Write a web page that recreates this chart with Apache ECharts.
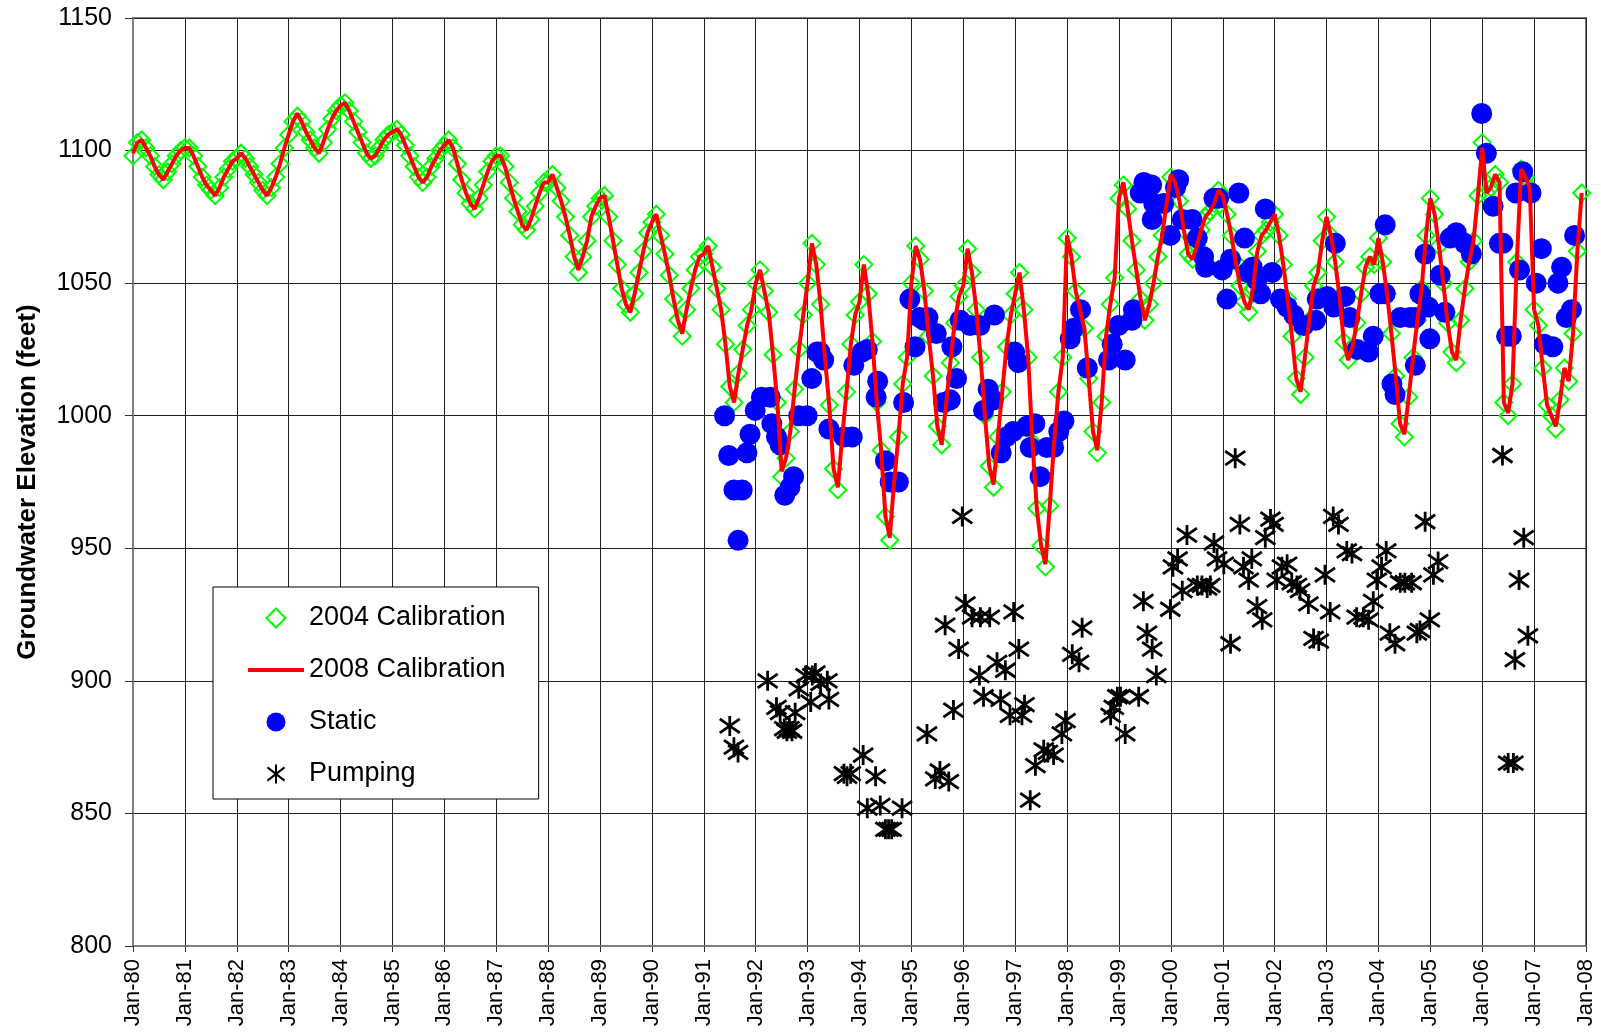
<!DOCTYPE html>
<html>
<head>
<meta charset="utf-8">
<title>Groundwater Elevation</title>
<script src="https://cdn.jsdelivr.net/npm/echarts@6/dist/echarts.min.js"></script>
<style>
    html, body { margin: 0; padding: 0; background: #ffffff; }
    #chart_groundwater { width: 1601px; height: 1032px; }
</style>
</head>
<body>
<div id="chart_groundwater"></div>
<script>
// monthly calibration values, Jan-80 .. Dec-07 (one row per year)
var calibStartYear = 1980;
var calib2004 = [
    1098, 1103, 1104, 1101, 1098, 1094, 1091, 1089, 1092, 1095, 1098, 1100,
    1101, 1101, 1098, 1094, 1090, 1087, 1085, 1083, 1086, 1090, 1093, 1096,
    1097, 1099, 1097, 1094, 1091, 1088, 1085, 1083, 1086, 1090, 1095, 1101,
    1106, 1111, 1113, 1111, 1107, 1104, 1101, 1099, 1103, 1108, 1112, 1115,
    1117, 1118, 1115, 1111, 1107, 1103, 1099, 1097, 1098, 1101, 1104, 1106,
    1107, 1108, 1106, 1102, 1098, 1094, 1090, 1088, 1090, 1094, 1097, 1100,
    1102, 1104, 1101, 1095, 1089, 1084, 1080, 1078, 1082, 1087, 1092, 1096,
    1098, 1098, 1094, 1088, 1082, 1077, 1072, 1070, 1074, 1079, 1084, 1088,
    1088, 1091, 1086, 1081, 1075, 1068, 1060, 1054, 1060, 1066, 1075, 1079,
    1082, 1083, 1075, 1066, 1057, 1048, 1042, 1039, 1046, 1054, 1062, 1069,
    1073, 1076, 1068, 1061, 1053, 1044, 1036, 1030, 1040, 1048, 1055, 1060,
    1061, 1064, 1056, 1048, 1040, 1027, 1011, 1005, 1016, 1025, 1034, 1040,
    1050, 1055, 1047, 1039, 1023, 1005, 977, 984, 994, 1010, 1025, 1038,
    1050, 1065, 1057, 1042, 1022, 1004, 980, 972, 992, 1009, 1027, 1038,
    1043, 1057, 1046, 1028, 1005, 987, 962, 953, 975, 992, 1012, 1022,
    1050, 1064, 1059, 1047, 1030, 1015, 996, 989, 1004, 1020, 1035, 1045,
    1049, 1063, 1054, 1040, 1022, 1000, 981, 973, 992, 1009, 1026, 1038,
    1046, 1054, 1040, 1022, 990, 965, 951, 943, 966, 990, 1009, 1022,
    1067, 1060, 1047, 1040, 1033, 1014, 994, 986, 1005, 1030, 1042, 1052,
    1082, 1087, 1078, 1066, 1055, 1044, 1036, 1042, 1050, 1060, 1068, 1080,
    1090, 1088, 1081, 1070, 1061, 1059, 1064, 1070, 1075, 1077, 1080, 1085,
    1083, 1076, 1068, 1058, 1049, 1043, 1039, 1048, 1062, 1068, 1070, 1073,
    1076, 1068, 1057, 1044, 1030, 1014, 1008, 1022, 1036, 1049, 1054, 1066,
    1075, 1068, 1058, 1045, 1028, 1021, 1026, 1035, 1046, 1056, 1060, 1057,
    1067, 1058, 1046, 1031, 1015, 997, 992, 1007, 1022, 1036, 1048, 1068,
    1082, 1076, 1064, 1050, 1035, 1024, 1020, 1036, 1048, 1058, 1066, 1083,
    1103, 1084, 1086, 1091, 1088, 1005, 1000, 1012, 1058, 1093, 1090, 1086,
    1040, 1034, 1018, 1004, 1000, 995, 1006, 1018, 1013, 1031, 1062, 1084
];
var calib2008 = [
    1099, 1103, 1104, 1101, 1098, 1094, 1091, 1089, 1092, 1095, 1098, 1100,
    1101, 1101, 1098, 1094, 1090, 1087, 1085, 1083, 1086, 1090, 1093, 1096,
    1097, 1099, 1097, 1094, 1091, 1088, 1085, 1083, 1086, 1090, 1095, 1101,
    1106, 1111, 1114, 1111, 1107, 1104, 1101, 1099, 1103, 1108, 1112, 1115,
    1117, 1118, 1115, 1111, 1107, 1103, 1099, 1097, 1098, 1101, 1104, 1106,
    1107, 1108, 1106, 1102, 1098, 1094, 1090, 1088, 1090, 1094, 1097, 1100,
    1102, 1104, 1101, 1095, 1089, 1084, 1080, 1078, 1082, 1087, 1092, 1096,
    1098, 1098, 1094, 1088, 1082, 1077, 1072, 1070, 1074, 1079, 1084, 1088,
    1088, 1091, 1086, 1081, 1075, 1068, 1060, 1055, 1060, 1066, 1075, 1079,
    1082, 1083, 1075, 1066, 1057, 1048, 1042, 1039, 1046, 1054, 1062, 1069,
    1073, 1076, 1068, 1061, 1053, 1044, 1036, 1031, 1040, 1048, 1055, 1060,
    1061, 1064, 1056, 1048, 1040, 1027, 1011, 1005, 1016, 1025, 1034, 1040,
    1050, 1055, 1047, 1039, 1023, 1005, 979, 984, 994, 1010, 1025, 1038,
    1050, 1065, 1057, 1042, 1022, 1004, 980, 973, 992, 1009, 1027, 1038,
    1043, 1057, 1046, 1028, 1005, 987, 962, 954, 975, 992, 1012, 1022,
    1050, 1064, 1059, 1047, 1030, 1015, 996, 989, 1004, 1020, 1035, 1045,
    1049, 1063, 1054, 1040, 1022, 1000, 981, 974, 992, 1009, 1026, 1038,
    1046, 1054, 1040, 1022, 990, 965, 951, 944, 966, 990, 1009, 1022,
    1068, 1060, 1047, 1040, 1033, 1014, 994, 987, 1005, 1030, 1042, 1052,
    1082, 1088, 1078, 1066, 1055, 1044, 1036, 1042, 1050, 1060, 1068, 1080,
    1091, 1088, 1081, 1070, 1061, 1059, 1064, 1070, 1075, 1077, 1080, 1085,
    1083, 1076, 1068, 1058, 1049, 1043, 1040, 1048, 1062, 1068, 1070, 1073,
    1076, 1068, 1057, 1044, 1030, 1014, 1009, 1022, 1036, 1049, 1054, 1066,
    1075, 1068, 1058, 1045, 1028, 1021, 1026, 1035, 1046, 1056, 1060, 1057,
    1067, 1058, 1046, 1031, 1015, 997, 993, 1007, 1022, 1036, 1048, 1068,
    1082, 1076, 1064, 1050, 1035, 1024, 1021, 1036, 1048, 1058, 1066, 1083,
    1101, 1084, 1086, 1091, 1088, 1005, 1001, 1012, 1058, 1093, 1090, 1086,
    1040, 1034, 1018, 1004, 1000, 996, 1006, 1018, 1013, 1031, 1062, 1084
];

// static water levels (decimal year, feet)
var staticDates = [
    1991.40, 1991.48, 1991.58, 1991.66, 1991.74, 1991.83, 1991.89, 1991.99,
    1992.11, 1992.28, 1992.31, 1992.40, 1992.47, 1992.56, 1992.66, 1992.73, 1992.83, 1992.99,
    1993.08, 1993.18, 1993.24, 1993.31, 1993.41, 1993.70, 1993.86, 1993.89,
    1994.05, 1994.15, 1994.32, 1994.35, 1994.50, 1994.59, 1994.75, 1994.85, 1994.97,
    1995.07, 1995.16, 1995.24, 1995.32, 1995.48, 1995.62, 1995.75, 1995.78, 1995.87, 1995.94,
    1996.13, 1996.32, 1996.39, 1996.48, 1996.58, 1996.60, 1996.73, 1996.83, 1996.96, 1996.99,
    1997.06, 1997.22, 1997.29, 1997.38, 1997.48, 1997.61, 1997.74, 1997.84, 1997.94,
    1998.06, 1998.13, 1998.26, 1998.39, 1998.80, 1998.87, 1998.99,
    1999.12, 1999.25, 1999.28, 1999.41, 1999.48, 1999.63, 1999.64, 1999.67, 1999.86, 1999.99,
    2000.09, 2000.15, 2000.22, 2000.41, 2000.51, 2000.63, 2000.67, 2000.83, 2000.92, 2000.99,
    2001.08, 2001.15, 2001.31, 2001.42, 2001.48, 2001.57, 2001.66, 2001.73, 2001.82, 2001.95,
    2002.11, 2002.24, 2002.37, 2002.56, 2002.79, 2002.82,
    2003.01, 2003.14, 2003.17, 2003.36, 2003.45, 2003.59, 2003.81, 2003.90,
    2004.03, 2004.13, 2004.13, 2004.26, 2004.32, 2004.42, 2004.61, 2004.71, 2004.71, 2004.80, 2004.90, 2004.96, 2004.99,
    2005.19, 2005.28, 2005.38, 2005.50, 2005.66, 2005.79, 2005.99,
    2006.08, 2006.21, 2006.33, 2006.40, 2006.47, 2006.56, 2006.65, 2006.72, 2006.78, 2006.94,
    2007.04, 2007.14, 2007.20, 2007.36, 2007.46, 2007.53, 2007.62, 2007.72, 2007.78
];
var staticLevels = [
    1000, 985, 972, 953, 972, 986, 993, 1002,
    1007, 1007, 997, 992, 989, 970, 973, 977, 1000, 1000,
    1014, 1024, 1024, 1021, 995, 992, 992, 1019,
    1024, 1025, 1007, 1013, 983, 975, 975, 1005, 1044,
    1026, 1037, 1036, 1037, 1031, 1005, 1006, 1026, 1014, 1036,
    1034, 1034, 1002, 1010, 1006, 1038, 986, 992, 994, 1024,
    1020, 996, 988, 997, 977, 988, 988, 994, 998,
    1029, 1033, 1040, 1018, 1021, 1027, 1034,
    1021, 1036, 1040, 1084, 1088, 1087, 1074, 1080, 1080, 1068,
    1086, 1089, 1074, 1074, 1067, 1060, 1056, 1082, 1082, 1055,
    1044, 1059, 1084, 1067, 1054, 1056, 1051, 1046, 1078, 1054,
    1044, 1041, 1038, 1034, 1036, 1044,
    1045, 1041, 1065, 1045, 1037, 1025, 1024, 1030,
    1046, 1046, 1072, 1012, 1008, 1037, 1037, 1037, 1019, 1046, 1061, 1041, 1029,
    1053, 1039, 1067, 1069, 1065, 1061, 1114,
    1099, 1079, 1065, 1065, 1030, 1030, 1084, 1055, 1092, 1084,
    1050, 1063, 1027, 1026, 1050, 1056, 1037, 1040, 1068
];

// pumping water levels (decimal year, feet)
var pumpDates = [
    1991.50, 1991.58, 1991.66,
    1992.23, 1992.40, 1992.47, 1992.55, 1992.60, 1992.65, 1992.70, 1992.76, 1992.83, 1992.96,
    1993.06, 1993.09, 1993.15, 1993.25, 1993.38, 1993.41, 1993.70, 1993.76, 1993.83,
    1994.07, 1994.15, 1994.31, 1994.40, 1994.50, 1994.56, 1994.62, 1994.82,
    1995.30, 1995.46, 1995.55, 1995.65, 1995.72, 1995.81, 1995.91, 1995.98,
    1996.04, 1996.17, 1996.31, 1996.33, 1996.39, 1996.51, 1996.65, 1996.72, 1996.81, 1996.90, 1996.97,
    1997.07, 1997.13, 1997.18, 1997.29, 1997.39, 1997.55, 1997.63, 1997.74, 1997.90, 1997.97,
    1998.10, 1998.23, 1998.29, 1998.84, 1998.90, 1998.97,
    1999.03, 1999.12, 1999.38, 1999.47, 1999.54, 1999.64, 1999.72, 1999.99,
    2000.04, 2000.13, 2000.22, 2000.31, 2000.51, 2000.60, 2000.70, 2000.76, 2000.83, 2000.89,
    2001.02, 2001.15, 2001.24, 2001.33, 2001.40, 2001.50, 2001.56, 2001.66, 2001.76, 2001.82, 2001.92, 2001.98,
    2002.04, 2002.14, 2002.24, 2002.33, 2002.43, 2002.49, 2002.65, 2002.75, 2002.85, 2002.97,
    2003.07, 2003.13, 2003.23, 2003.39, 2003.49, 2003.58, 2003.71, 2003.81, 2003.90, 2003.97,
    2004.06, 2004.15, 2004.22, 2004.32, 2004.42, 2004.51, 2004.64, 2004.74, 2004.80, 2004.90, 2004.99,
    2005.06, 2005.15,
    2006.39, 2006.50, 2006.60, 2006.63, 2006.71, 2006.80, 2006.88
];
var pumpLevels = [
    883, 875, 873,
    900, 890, 888, 882, 881, 882, 881, 888, 897, 902,
    892, 902, 903, 899, 900, 893, 865, 864, 865,
    872, 852, 864, 853, 844, 844, 844, 852,
    880, 863, 866, 921, 862, 889, 912, 962,
    929, 924, 902, 924, 894, 924, 907, 893, 904, 887, 926,
    912, 887, 891, 855, 868, 874, 873, 872, 880, 885,
    910, 907, 920, 887, 890, 894,
    894, 880, 894, 930, 918, 912, 902, 927,
    943, 946, 934, 955, 936, 936, 935, 936, 952, 946,
    944, 914, 984, 959, 943, 938, 946, 928, 923, 954, 961, 959,
    938, 943, 944, 937, 936, 934, 929, 916, 915, 940,
    926, 962, 959, 949, 948, 924, 924, 923, 930, 938,
    943, 949, 918, 914, 937, 937, 937, 918, 919, 960, 923,
    940, 945,
    985, 869, 869, 908, 938, 954, 917
];

var seriesNames = ['2004 Calibration', '2008 Calibration', 'Static', 'Pumping'];
var yAxisTitle = 'Groundwater Elevation (feet)';
var xLabelPrefix = 'Jan-';
var fontName = 'Liberation Sans, Arial, sans-serif';
var diamondPath = 'path://M10,0L20,10L10,20L0,10Z';
var asteriskPath = 'path://M10,0L10,20M1,3L19,17M1,17L19,3';
var legendLinePath = 'path://M0,0L56,0L56,4L0,4Z';

function toMonthly(values) {
    var out = [];
    for (var i = 0; i < values.length; i++) {
        out.push([calibStartYear + i / 12, values[i]]);
    }
    return out;
}

function toPairs(dates, levels) {
    var out = [];
    for (var i = 0; i < dates.length; i++) {
        out.push([dates[i], levels[i]]);
    }
    return out;
}

var chart_groundwater = echarts.init(document.getElementById('chart_groundwater'));

var option = {
    animation: false,
    backgroundColor: '#ffffff',
    textStyle: { fontFamily: fontName, color: '#000' },
    grid: {
        left: 133,
        right: 15,
        top: 18,
        bottom: 86,
        show: true,
        backgroundColor: '#ffffff',
        borderColor: '#808080',
        borderWidth: 2
    },
    legend: {
        orient: 'vertical',
        left: 213,
        top: 587,
        symbolKeepAspect: true,
        data: [
            { name: seriesNames[0], icon: diamondPath },
            { name: seriesNames[1], icon: legendLinePath, itemStyle: { color: '#ff0000', borderWidth: 0 } },
            { name: seriesNames[2], icon: 'circle' },
            { name: seriesNames[3], icon: asteriskPath }
        ],
        backgroundColor: '#ffffff',
        borderColor: '#000000',
        borderWidth: 1,
        borderRadius: 0,
        padding: [16, 33, 10, 35],
        itemWidth: 56,
        itemHeight: 19,
        itemGap: 22,
        textStyle: {
            fontFamily: fontName,
            fontSize: 27,
            lineHeight: 30,
            color: '#000'
        }
    },
    xAxis: {
        type: 'value',
        min: 1980,
        max: 2008,
        interval: 1,
        axisLine: { lineStyle: { color: '#808080', width: 2 } },
        axisTick: { show: true, length: 6, lineStyle: { color: '#333' } },
        axisLabel: {
            rotate: 90,
            margin: 13,
            fontSize: 22,
            fontFamily: fontName,
            color: '#000',
            formatter: function (v) {
                return xLabelPrefix + String(Math.round(v)).slice(2);
            }
        },
        splitLine: { show: true, lineStyle: { color: '#222', width: 1 } }
    },
    yAxis: {
        type: 'value',
        min: 800,
        max: 1150,
        interval: 50,
        name: yAxisTitle,
        nameLocation: 'middle',
        nameRotate: 90,
        nameGap: 92,
        nameTextStyle: {
            fontFamily: fontName,
            fontSize: 26,
            fontWeight: 'bold',
            color: '#000'
        },
        axisLine: { show: true, lineStyle: { color: '#808080', width: 2 } },
        axisTick: { show: true, length: 8, lineStyle: { color: '#333' } },
        axisLabel: {
            margin: 21,
            fontSize: 25,
            fontFamily: fontName,
            color: '#000',
            formatter: function (v) {
                return String(v);
            }
        },
        splitLine: { show: true, lineStyle: { color: '#222', width: 1 } }
    },
    series: [
        {
            name: seriesNames[0],
            type: 'scatter',
            symbol: 'diamond',
            symbolSize: 17,
            itemStyle: {
                color: 'rgba(0,0,0,0)',
                borderColor: '#00ff00',
                borderWidth: 2,
                opacity: 1
            },
            data: toMonthly(calib2004)
        },
        {
            name: seriesNames[1],
            type: 'line',
            symbol: 'none',
            showSymbol: false,
            lineStyle: { color: '#ff0000', width: 4 },
            itemStyle: { color: '#ff0000' },
            data: toMonthly(calib2008)
        },
        {
            name: seriesNames[2],
            type: 'scatter',
            symbol: 'circle',
            symbolSize: 21,
            itemStyle: { color: '#0000ff', opacity: 1 },
            data: toPairs(staticDates, staticLevels)
        },
        {
            name: seriesNames[3],
            type: 'scatter',
            symbol: asteriskPath,
            symbolSize: 20,
            itemStyle: {
                color: 'rgba(0,0,0,0)',
                borderColor: '#000000',
                borderWidth: 2.8,
                opacity: 1
            },
            data: toPairs(pumpDates, pumpLevels)
        }
    ]
};
chart_groundwater.setOption(option);
</script>
</body>
</html>
